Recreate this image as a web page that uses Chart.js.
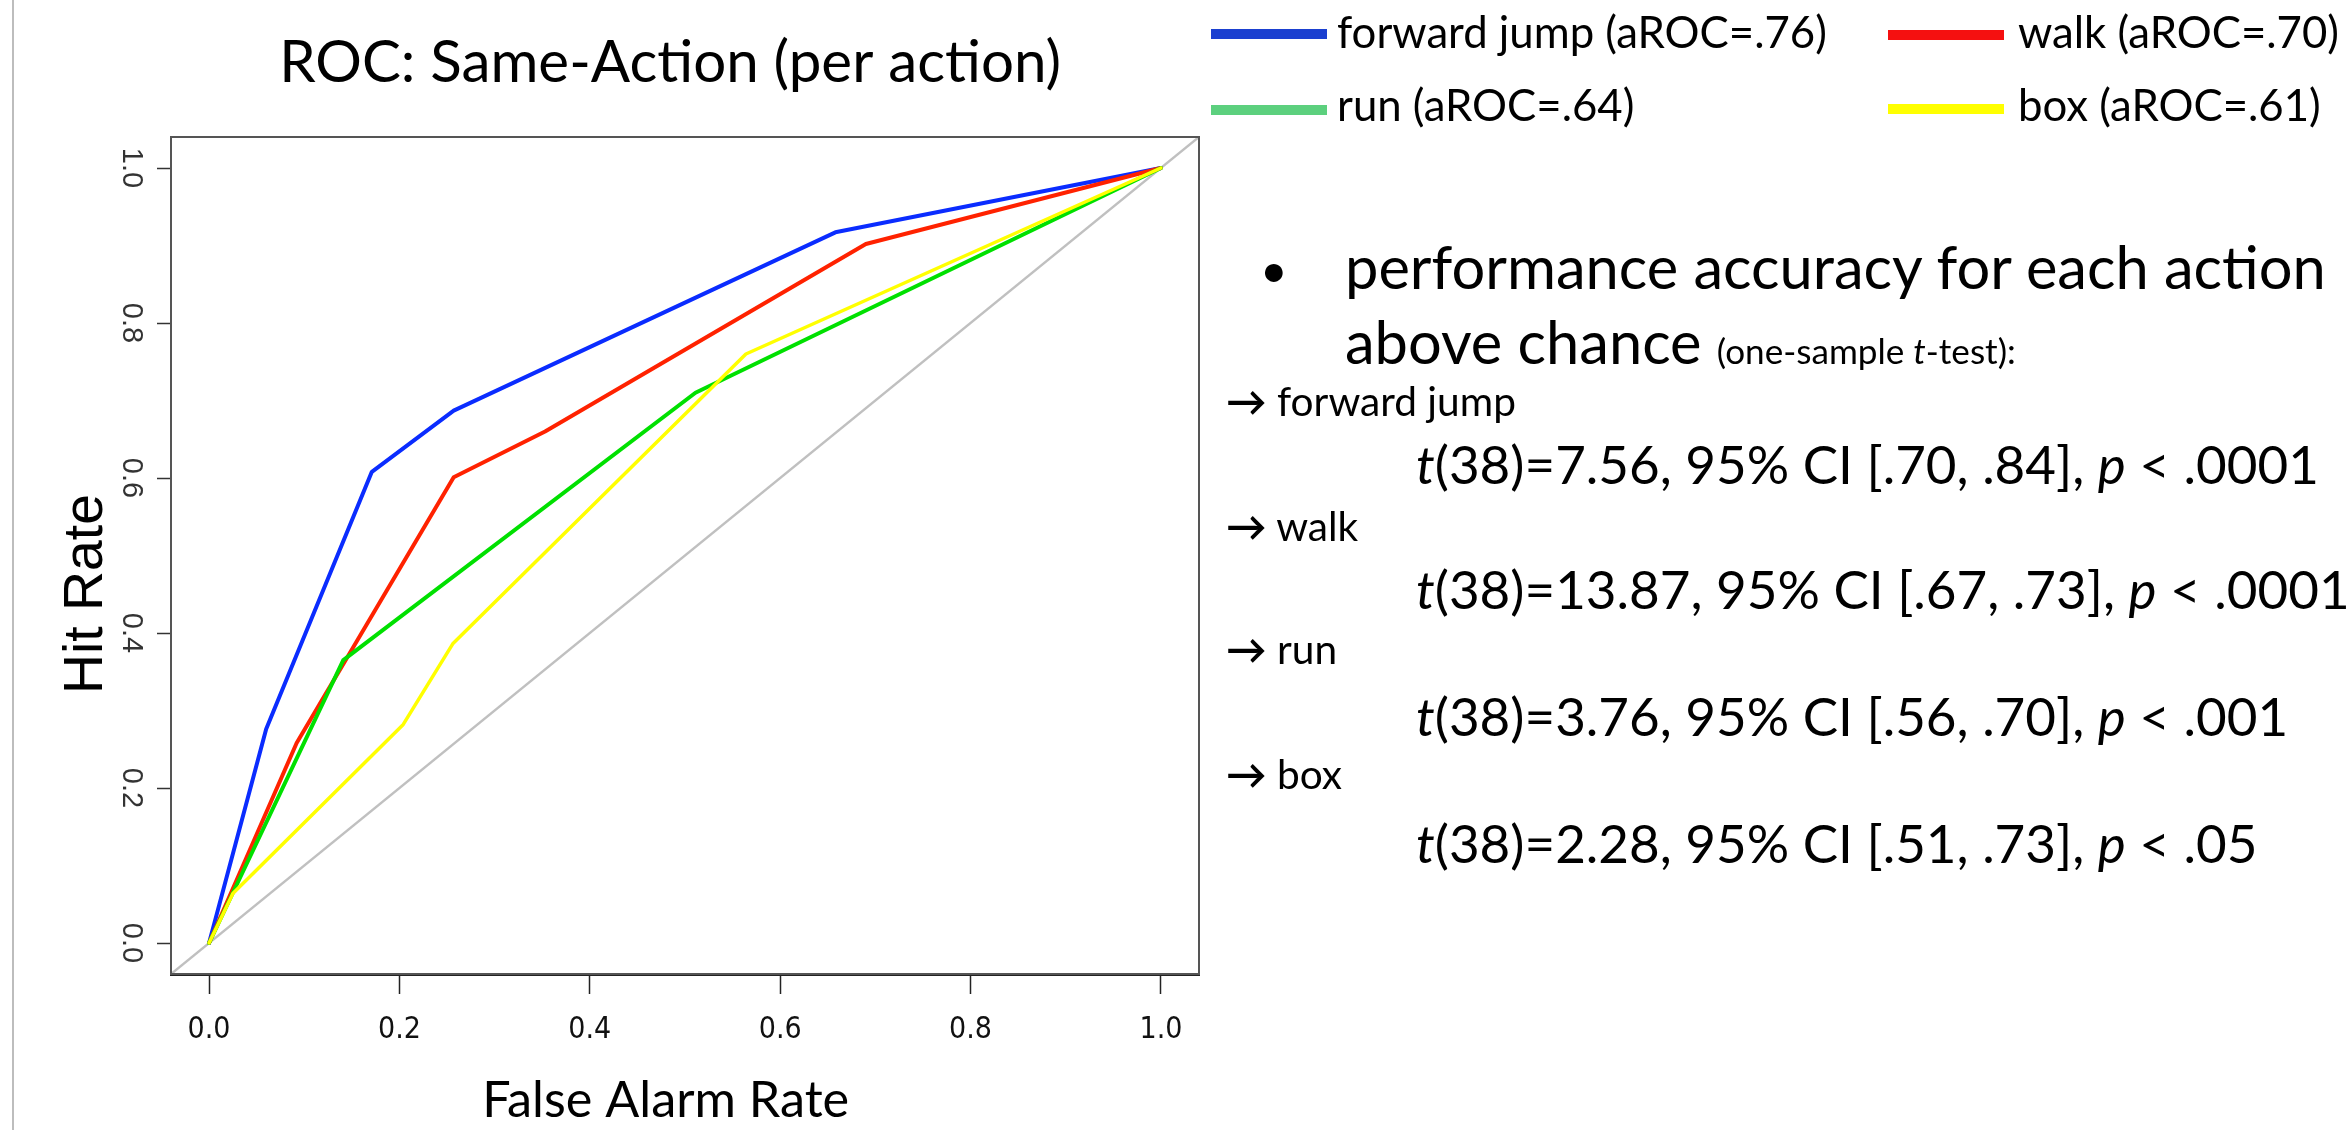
<!DOCTYPE html>
<html>
<head>
<meta charset="utf-8">
<script src="https://cdn.jsdelivr.net/npm/chart.js@4.4.1/dist/chart.umd.min.js"></script>
<style>
  html, body { margin: 0; padding: 0; background: #fff; }
  #wrap { position: relative; width: 2349px; height: 1130px; overflow: hidden; background: #fff; }
  #c { position: absolute; left: 0; top: 0; }
  .edge { position: absolute; left: 12px; top: 0; width: 2px; height: 1130px; background: #bdbdbd; }
  .t { position: absolute; white-space: nowrap; font-family: Lato, "Noto Sans", sans-serif; color: #000;
       line-height: 1.2; transform: translateY(-50%); }
  .sw { position: absolute; height: 10px; }
  .sm { font-size: 0.6em; }
</style>
</head>
<body>
<div id="wrap">
  <div class="edge"></div>
  <canvas id="c" width="2349" height="1130" style="width:2349px;height:1130px"></canvas>
  <div id="legend"></div>
  <div id="notes"></div>
</div>
<script>
// ---------- data ----------
const FA_TICKS = [0, 0.2, 0.4, 0.6, 0.8, 1.0];
const FA_TICK_LABELS = ['0.0', '0.2', '0.4', '0.6', '0.8', '1.0'];
const HIT_TICKS = [0, 0.2, 0.4, 0.6, 0.8, 1.0];
const HIT_TICK_LABELS = ['0.0', '0.2', '0.4', '0.6', '0.8', '1.0'];
const AXIS_MIN = -0.04, AXIS_MAX = 1.04;

const actions = ['forward jump', 'walk', 'run', 'box'];
const aROC = ['.76', '.70', '.64', '.61'];

const jumpFA  = [0, 0.060, 0.171, 0.257, 0.658, 1];
const jumpHit = [0, 0.276, 0.608, 0.687, 0.917, 1];
const walkFA  = [0, 0.092, 0.257, 0.353, 0.690, 1];
const walkHit = [0, 0.258, 0.601, 0.660, 0.902, 1];
const runFA   = [0, 0.141, 0.511, 1];
const runHit  = [0, 0.365, 0.710, 1];
const boxFA   = [0, 0.025, 0.204, 0.256, 0.564, 1];
const boxHit  = [0, 0.064, 0.282, 0.386, 0.760, 1];
const chanceFA  = [-0.04, 1.04];
const chanceHit = [-0.04, 1.04];

const df = 38;
const tStat  = ['7.56', '13.87', '3.76', '2.28'];
const ciLow  = ['.70', '.67', '.56', '.51'];
const ciHigh = ['.84', '.73', '.70', '.73'];
const pBound = ['.0001', '.0001', '.001', '.05'];

const TITLE_TEXT = 'ROC: Same-Action (per action)';
const X_TITLE = 'False Alarm Rate';
const Y_TITLE = 'Hit Rate';

// ---------- styles ----------
const LINE_COLORS   = ['#0a2cff', '#ff2200', '#00e000', '#ffff00'];
const LEGEND_COLORS = ['#1b40d0', '#f51010', '#5cd07e', '#ffff00'];
const LINE_WIDTHS   = [4, 4, 4, 3.5];
const DRAW_ORDER    = [4, 3, 2, 1];
const CHANCE_COLOR  = '#c0c0c0';
const NB = '\u00A0';
const pad = (s, n) => s + NB.repeat(n);   // trailing spaces nudge the centred text

const mc = document.createElement('canvas').getContext('2d');
function fitPx(text, family, target, style) {
  mc.font = (style || 'normal') + ' 100px ' + family;
  return 100 * target / mc.measureText(text).width;
}
const titleSize  = fitPx(TITLE_TEXT, 'Lato', 782);
const xTitleSize = fitPx(X_TITLE, 'Lato', 367);
const yTitleSize = fitPx(Y_TITLE, '"Liberation Sans"', 200);

const seriesFA  = [jumpFA, walkFA, runFA, boxFA];
const seriesHit = [jumpHit, walkHit, runHit, boxHit];
const pts = (xs, ys) => xs.map((x, i) => ({ x: x, y: ys[i] }));

const datasets = actions.map((a, k) => ({
  label: a + ' (aROC=' + aROC[k] + ')',
  data: pts(seriesFA[k], seriesHit[k]),
  borderColor: LINE_COLORS[k],
  backgroundColor: LINE_COLORS[k],
  borderWidth: LINE_WIDTHS[k],
  showLine: true, pointRadius: 0, pointHoverRadius: 0, tension: 0, fill: false,
  borderJoinStyle: 'round', borderCapStyle: 'round',
  order: DRAW_ORDER[k]
}));
datasets.push({
  label: 'chance', data: pts(chanceFA, chanceHit),
  borderColor: CHANCE_COLOR, backgroundColor: CHANCE_COLOR, borderWidth: 2.5,
  showLine: true, pointRadius: 0, pointHoverRadius: 0, tension: 0, order: 5
});

const boxPlugin = {
  id: 'plotBox',
  afterDatasetsDraw(chart) {
    const { ctx, chartArea: a } = chart;
    ctx.save();
    ctx.strokeStyle = '#555';
    ctx.lineWidth = 2;
    ctx.strokeRect(a.left, a.top, a.right - a.left, a.bottom - a.top);
    ctx.restore();
  }
};

const CHART_TOP = 137, CHART_BOTTOM = 974, CHART_LEFT = 171, CHART_RIGHT = 1199;
const titleCenter = 63;
const titlePadTop = titleCenter - 0.6 * titleSize;
const titlePadBottom = CHART_TOP - titlePadTop - 1.2 * titleSize;
const xAxisHeight = 1130 - CHART_BOTTOM;
const xTitleCenter = 1101;
const xTitlePadBottom = (1130 - xTitleCenter) - 0.6 * xTitleSize;
const yTitleCenter = 87;
const yTitlePadTop = yTitleCenter - 0.6 * yTitleSize;

const chart = new Chart(document.getElementById('c'), {
  type: 'scatter',
  data: { datasets: datasets },
  plugins: [boxPlugin],
  options: {
    responsive: false,
    animation: false,
    events: [],
    layout: { padding: { left: 0, top: 0, bottom: 0, right: 2349 - CHART_RIGHT } },
    plugins: {
      legend: { display: false },
      tooltip: { enabled: false },
      title: {
        display: true, text: pad(TITLE_TEXT, 2), fullSize: false, align: 'center', color: '#000',
        font: { family: 'Lato', size: titleSize, weight: 'normal', lineHeight: 1.2 },
        padding: { top: titlePadTop, bottom: titlePadBottom }
      }
    },
    scales: {
      x: {
        type: 'linear', position: 'bottom', min: AXIS_MIN, max: AXIS_MAX,
        afterBuildTicks: s => { s.ticks = FA_TICKS.map(v => ({ value: v })); },
        afterFit: s => { s.height = xAxisHeight; },
        ticks: {
          autoSkip: false, minRotation: 0, maxRotation: 0, padding: 18, color: '#111',
          font: { family: '"Liberation Sans Narrow", "DejaVu Sans Condensed", "Liberation Sans", sans-serif', size: 30 },
          callback: (v) => FA_TICK_LABELS[FA_TICKS.indexOf(v)]
        },
        grid: { display: true, drawOnChartArea: false, drawTicks: true, tickLength: 20, tickColor: '#222', tickWidth: 1.5 },
        border: { display: true, color: '#222', width: 3 },
        title: {
          display: true, text: pad(X_TITLE, 3), color: '#000',
          font: { family: 'Lato', size: xTitleSize, weight: 'normal', lineHeight: 1.2 },
          padding: { top: 0, bottom: xTitlePadBottom }
        }
      },
      y: {
        type: 'linear', position: 'left', min: AXIS_MIN, max: AXIS_MAX,
        afterBuildTicks: s => { s.ticks = HIT_TICKS.map(v => ({ value: v })); },
        afterFit: s => { s.width = CHART_LEFT; },
        ticks: {
          autoSkip: false, minRotation: -90, maxRotation: -90, crossAlign: 'center', padding: 6, color: '#333',
          font: { family: '"Liberation Sans", Arial, sans-serif', size: 29 },
          callback: (v) => HIT_TICK_LABELS[HIT_TICKS.indexOf(v)]
        },
        grid: { display: true, drawOnChartArea: false, drawTicks: true, tickLength: 14, tickColor: '#333', tickWidth: 1.5 },
        border: { display: true, color: '#444', width: 2 },
        title: {
          display: true, text: pad(Y_TITLE, 5), color: '#000',
          font: { family: '"Liberation Sans", Arial, sans-serif', size: yTitleSize, weight: 'normal', lineHeight: 1.2 },
          padding: { top: yTitlePadTop, bottom: 0 }
        }
      }
    }
  }
});

// ---------- legend (built from the chart datasets) ----------
const legendSlots = [
  { sw: 1211, swTop: 29, text: 1337, cy: 31 },
  { sw: 1888, swTop: 30, text: 2018, cy: 31 },
  { sw: 1211, swTop: 105, text: 1337, cy: 104 },
  { sw: 1888, swTop: 104, text: 2018, cy: 104 }
];
const legendEl = document.getElementById('legend');
const legendTexts = [];
chart.data.datasets.slice(0, actions.length).forEach((ds, k) => {
  const s = legendSlots[k];
  const sw = document.createElement('div');
  sw.className = 'sw';
  sw.style.left = s.sw + 'px'; sw.style.top = s.swTop + 'px'; sw.style.width = '116px';
  sw.style.background = LEGEND_COLORS[k];
  legendEl.appendChild(sw);
  const tx = document.createElement('div');
  tx.className = 't';
  tx.style.left = s.text + 'px'; tx.style.top = s.cy + 'px'; tx.style.fontSize = '40px';
  tx.textContent = ds.label;
  legendEl.appendChild(tx);
  legendTexts.push(tx);
});
function fitEl(el, target) {
  const w = el.getBoundingClientRect().width;
  const fs = parseFloat(el.style.fontSize);
  const nf = fs * target / w;
  el.style.fontSize = nf + 'px';
  return nf;
}
const legSize = fitEl(legendTexts[0], 490);
legendTexts.forEach(el => { el.style.fontSize = legSize + 'px'; });

// ---------- notes ----------
const notesEl = document.getElementById('notes');
function addLine(html, left, cy, size) {
  const d = document.createElement('div');
  d.className = 't';
  d.style.left = left + 'px'; d.style.top = cy + 'px'; d.style.fontSize = size + 'px';
  d.innerHTML = html;
  notesEl.appendChild(d);
  return d;
}
const head1 = addLine('performance accuracy for each action', 1345, 267, 60);
const mainSize = fitEl(head1, 981);
addLine('\u2022', 1260, 269, mainSize * 0.8);
const head2 = addLine('above chance <span class="sm" id="sm">(one-sample <i>t</i>-test):</span>', 1345, 342, mainSize);
const smEl = document.getElementById('sm');
const smW = smEl.getBoundingClientRect().width;
smEl.style.fontSize = (0.6 * mainSize * 299 / smW) + 'px';

const arrowCy = [401, 526, 649, 774];
const statCy  = [464, 589, 716, 843];
const arrowEls = actions.map((a, k) => addLine('<b>\u2192</b> ' + a, 1226, arrowCy[k], 40));
const arrowSize = fitEl(arrowEls[0], 290);
arrowEls.forEach(el => { el.style.fontSize = arrowSize + 'px'; });
const statEls = actions.map((a, k) => addLine(
  '<i>t</i>(' + df + ')=' + tStat[k] + ', 95% CI [' + ciLow[k] + ', ' + ciHigh[k] + '], <i>p</i> &lt; ' + pBound[k],
  1416, statCy[k], 50));
const statSize = fitEl(statEls[0], 903);
statEls.forEach(el => { el.style.fontSize = statSize + 'px'; });
</script>
</body>
</html>
